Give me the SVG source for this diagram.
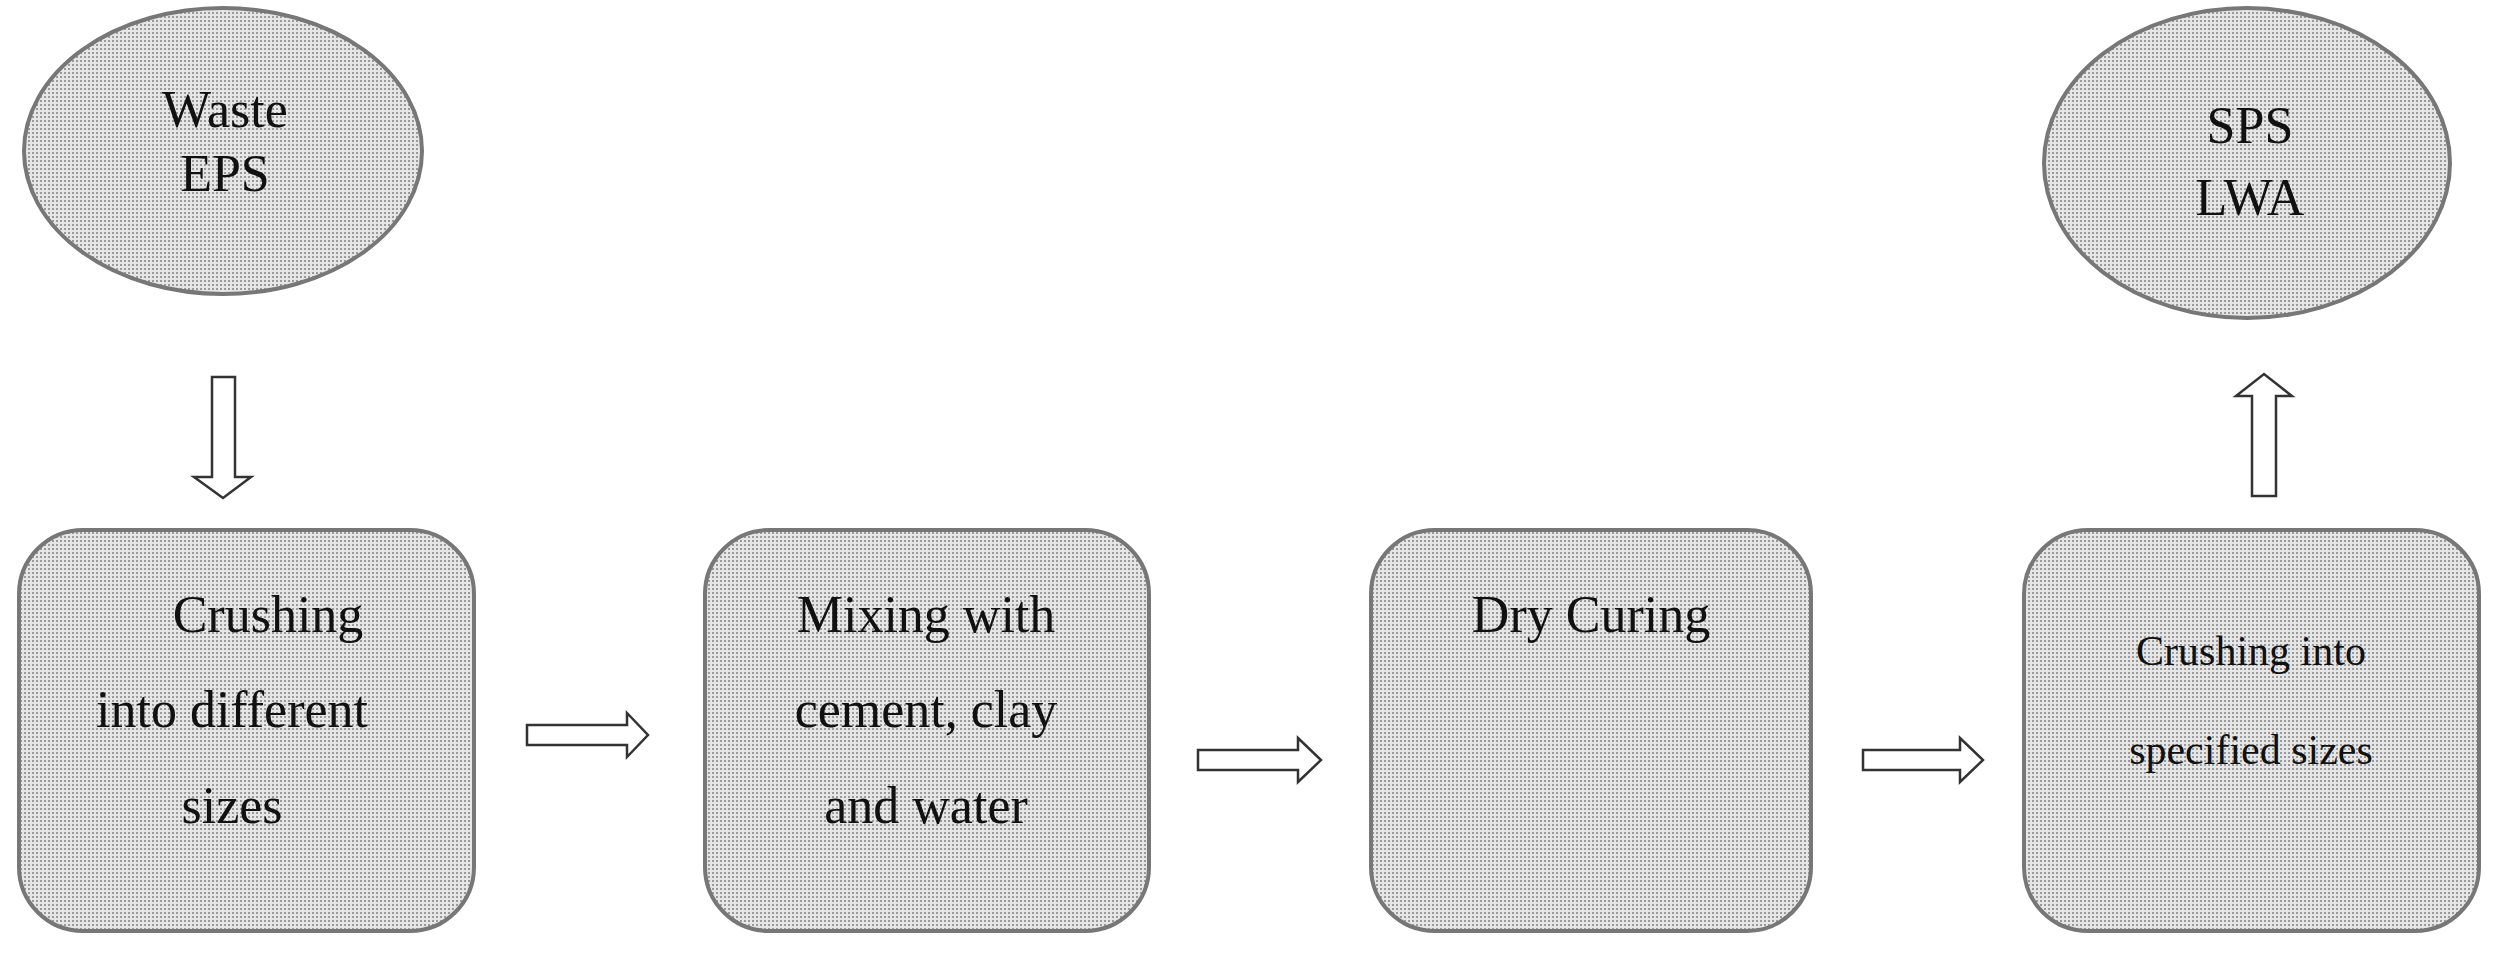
<svg xmlns="http://www.w3.org/2000/svg" width="2495" height="954" viewBox="0 0 2495 954">
<defs>
<pattern id="dots" width="4" height="4" patternUnits="userSpaceOnUse">
<rect width="4" height="4" fill="#e6e6e6"/>
<rect width="2" height="2" fill="#9a9a9a"/>
</pattern>
</defs>
<style>
.n{fill:url(#dots);stroke:#777;stroke-width:4}
.t{font-family:"Liberation Serif",serif;font-size:52px;fill:#111;text-anchor:middle}
.s{font-size:42px}
.a{fill:#fff;stroke:#333;stroke-width:2.5}
</style>
<rect width="2495" height="954" fill="#fff"/>
<g id="waste-eps">
<ellipse class="n" cx="223" cy="151" rx="199" ry="143"/>
<text class="t" x="225" y="127">Waste</text>
<text class="t" x="225" y="191">EPS</text>
</g>
<g id="crushing-1">
<rect class="n" x="19" y="530" width="455" height="401" rx="64"/>
<text class="t" x="268" y="632">Crushing</text>
<text class="t" x="232" y="727">into different</text>
<text class="t" x="232" y="823">sizes</text>
</g>
<g id="mixing">
<rect class="n" x="705" y="530" width="444" height="401" rx="64"/>
<text class="t" x="926" y="632">Mixing with</text>
<text class="t" x="926" y="727">cement, clay</text>
<text class="t" x="926" y="823">and water</text>
</g>
<g id="dry-curing">
<rect class="n" x="1371" y="530" width="440" height="401" rx="64"/>
<text class="t" x="1591" y="632">Dry Curing</text>
</g>
<g id="crushing-2">
<rect class="n" x="2024" y="530" width="455" height="401" rx="64"/>
<text class="t s" x="2251" y="665">Crushing into</text>
<text class="t s" x="2251" y="764">specified sizes</text>
</g>
<g id="sps-lwa">
<ellipse class="n" cx="2247" cy="163" rx="203" ry="155"/>
<text class="t" x="2250" y="143">SPS</text>
<text class="t" x="2250" y="215">LWA</text>
</g>
<g id="connectors">
<path class="a" d="M212,377 H235 V477 H251 L223,498 L194,477 H212 Z"/>
<path class="a" d="M527,725 H627 V713 L648,735 L627,757 V745 H527 Z"/>
<path class="a" d="M1198,750 H1298 V738 L1321,760 L1298,782 V770 H1198 Z"/>
<path class="a" d="M1863,750 H1960 V738 L1983,760 L1960,782 V770 H1863 Z"/>
<path class="a" d="M2252,496 V396 H2236 L2264,374 L2292,396 H2276 V496 Z"/>
</g>
</svg>
